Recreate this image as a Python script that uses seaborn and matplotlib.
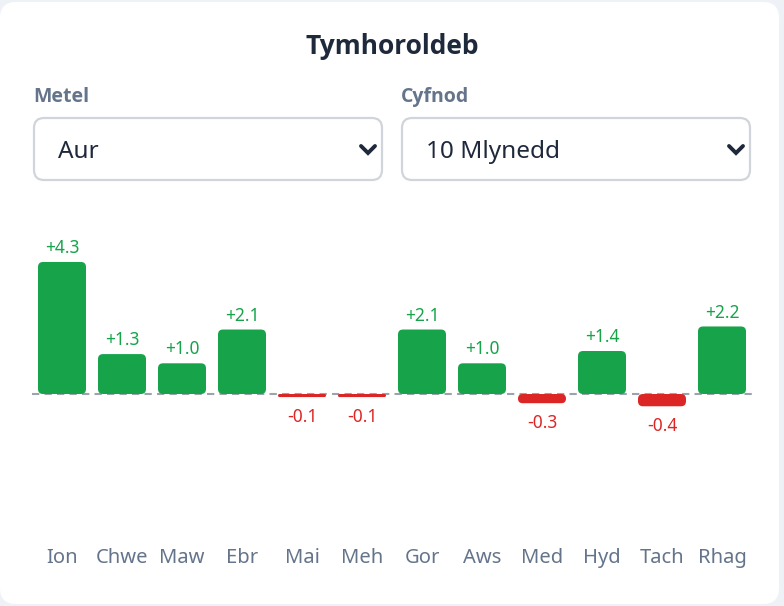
import numpy as np
import pandas as pd
import matplotlib
matplotlib.use("Agg")
import matplotlib.pyplot as plt
from matplotlib import font_manager as fm
from matplotlib.patches import FancyBboxPatch
import seaborn as sns

# data
months = ['Ion', 'Chwe', 'Maw', 'Ebr', 'Mai', 'Meh', 'Gor', 'Aws', 'Med', 'Hyd', 'Tach', 'Rhag']
changes = [4.3, 1.3, 1.0, 2.1, -0.1, -0.1, 2.1, 1.0, -0.3, 1.4, -0.4, 2.2]
title = 'Tymhoroldeb'
metal_label, metal_value = 'Metel', 'Aur'
period_label, period_value = 'Cyfnod', '10 Mlynedd'

GREEN = '#16a34a'
RED = '#dc2626'
SLATE = '#64748b'
DARK = '#1e293b'

sns.set_theme(style="white")
plt.rcParams['font.family'] = ['Noto Sans', 'DejaVu Sans']


def weight_num(w):
    if isinstance(w, str):
        return fm.weight_dict.get(w, 400)
    return w


# pick a family that really has a bold face installed
bold_family = 'DejaVu Sans'
for fam in ['Noto Sans', 'Open Sans', 'Lato', 'Roboto', 'Liberation Sans']:
    if any(f.name == fam and weight_num(f.weight) >= 600 for f in fm.fontManager.ttflist):
        bold_family = fam
        break

W, H = 784, 606
fig = plt.figure(figsize=(W / 100, H / 100), dpi=100)
fig.patch.set_facecolor('#eef2f6')

# pixel overlay for the card, dropdowns and texts
bg = fig.add_axes([0, 0, 1, 1], zorder=0)
bg.set_xlim(0, W)
bg.set_ylim(H, 0)
bg.axis('off')


def rbox(x0, y0, x1, y1, r, fc, ec='none', lw=0):
    bg.add_patch(FancyBboxPatch((x0, y0), x1 - x0, y1 - y0,
                                boxstyle=f"round,pad=0,rounding_size={r}",
                                fc=fc, ec=ec, lw=lw))


rbox(0, 2, 779, 604, 16, 'white')
bg.text(392, 47, title, ha='center', va='center', fontsize=19,
        fontweight='bold', family=[bold_family, 'DejaVu Sans'], color=DARK)

for x0, lab, val in [(33, metal_label, metal_value), (401, period_label, period_value)]:
    bg.text(x0, 97, lab, ha='left', va='center', fontsize=14,
            fontweight='bold', family=[bold_family, 'DejaVu Sans'], color=SLATE)
    rbox(x0 + 1, 118, x0 + 349, 180, 10, 'white', '#d1d5db', 1.6)
    bg.text(x0 + 25, 152, val, ha='left', va='center', fontsize=17.5, color=DARK)
    cx = x0 + 335
    bg.plot([cx - 7, cx, cx + 7], [146, 153, 146], color=DARK, lw=2.8,
            solid_capstyle='round', solid_joinstyle='miter')

# chart axes
ax_l, ax_r, ax_t, ax_b = 32, 752, 230, 540
ax = fig.add_axes([ax_l / W, 1 - ax_b / H, (ax_r - ax_l) / W, (ax_b - ax_t) / H], zorder=1)
ax.patch.set_alpha(0)

df = pd.DataFrame({'month': months, 'change': changes})
df['sign'] = np.where(df['change'] >= 0, 'up', 'down')
sns.barplot(data=df, x='month', y='change', hue='sign',
            palette={'up': GREEN, 'down': RED}, dodge=False, width=0.8,
            saturation=1, legend=False, ax=ax, zorder=3)

px_per_unit = 30.7
zero_y = 394
ax.set_ylim(-(ax_b - zero_y) / px_per_unit, (zero_y - ax_t) / px_per_unit)
ax.set_xlim(-0.5, len(months) - 0.5)

# swap the plain rectangles for rounded ones
x_px = (ax_r - ax_l) / len(months)
aspect = x_px / px_per_unit
r_data = 5 / x_px
for p in list(ax.patches):
    x, y = p.get_x(), p.get_y()
    w, h = p.get_width(), p.get_height()
    if np.isnan(h) or h == 0:
        p.remove()
        continue
    y0 = min(y, y + h)
    hh = abs(h)
    rs = min(r_data, hh / aspect / 2)
    fc = p.get_facecolor()
    p.remove()
    ax.add_patch(FancyBboxPatch((x, y0), w, hh,
                                boxstyle=f"round,pad=0,rounding_size={rs}",
                                mutation_aspect=aspect, fc=fc, ec='none', zorder=3))

ax.axhline(0, color='#9ca3af', lw=1.5, ls=(0, (3.5, 2.5)), zorder=2)

for i, v in enumerate(changes):
    if v >= 0:
        ax.annotate(f'+{v:.1f}', (i, v), xytext=(0, 10), textcoords='offset points',
                    ha='center', va='center', fontsize=12.5, color=GREEN)
    else:
        ax.annotate(f'{v:.1f}', (i, v), xytext=(0, -14), textcoords='offset points',
                    ha='center', va='center', fontsize=12.5, color=RED)

ax.set_xlabel('')
ax.set_ylabel('')
ax.set_yticks([])
ax.tick_params(axis='x', length=0, pad=6, labelsize=14.5, labelcolor=SLATE)
sns.despine(ax=ax, left=True, bottom=True)

fig.savefig('out.png', dpi=100, facecolor=fig.get_facecolor())
